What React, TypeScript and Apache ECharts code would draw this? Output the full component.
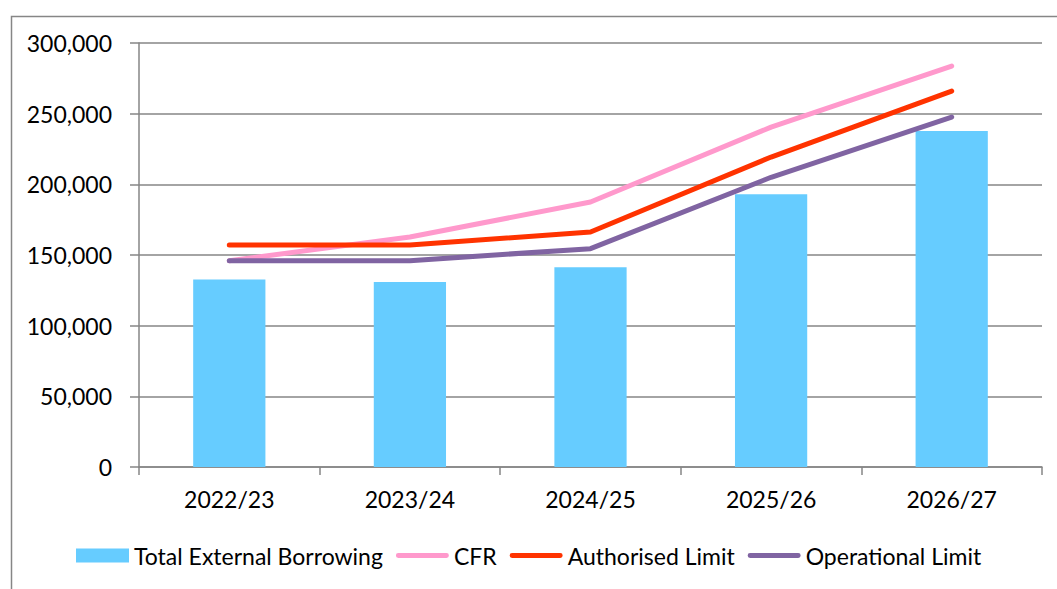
import React, { useEffect, useRef } from "react";
import * as echarts from "echarts";

const categories = ["2022/23", "2023/24", "2024/25", "2025/26", "2026/27"];
const totalExternalBorrowing = [132600, 130900, 141300, 193000, 237700];
const cfr = [146000, 162700, 187500, 240500, 283700];
const authorisedLimit = [157000, 157000, 166300, 219300, 266000];
const operationalLimit = [146000, 146000, 154500, 205000, 247600];
const yTicks = { min: 0, max: 300000, interval: 50000 };

const FONT = "Lato";
const AXIS = "#868686";
const LINE_ICON =
  "path://M2.5,0 L52.5,0 A2.5,2.5 0 0 1 52.5,5 L2.5,5 A2.5,2.5 0 0 1 2.5,0 Z";

export default function App() {
  const ref = useRef<HTMLDivElement>(null);
  useEffect(() => {
    if (!ref.current) return;
    const chart = echarts.init(ref.current, null, { renderer: "svg" });
    const lineSeries = (name: string, data: number[], color: string) => ({
      name,
      type: "line",
      data,
      symbol: "none",
      showSymbol: false,
      itemStyle: { color },
      lineStyle: { color, width: 5, cap: "round", join: "round" },
      z: 3,
    });
    chart.setOption({
      animation: false,
      backgroundColor: "#ffffff",
      textStyle: { fontFamily: FONT },
      graphic: [
        {
          type: "rect",
          left: 9,
          top: 14,
          shape: { x: 0, y: 0, width: 1100, height: 700 },
          style: { fill: "none", stroke: AXIS, lineWidth: 1.5 },
          silent: true,
        },
      ],
      grid: { left: 139, right: 15, top: 43, bottom: 122, containLabel: false },
      legend: {
        left: 71,
        top: 539,
        itemWidth: 53,
        itemHeight: 14,
        itemGap: 13,
        textStyle: { fontFamily: FONT, fontSize: 23, color: "#000" },
        data: [
          { name: "Total External Borrowing", icon: "rect" },
          { name: "CFR", icon: LINE_ICON },
          { name: "Authorised Limit", icon: LINE_ICON },
          { name: "Operational Limit", icon: LINE_ICON },
        ],
      },
      xAxis: {
        type: "category",
        data: categories,
        boundaryGap: true,
        axisLine: { lineStyle: { color: AXIS, width: 1.5 } },
        axisTick: { show: true, interval: 0, length: 8, lineStyle: { color: AXIS, width: 1.5 } },
        axisLabel: { fontFamily: FONT, fontSize: 23, color: "#000", margin: 20 },
      },
      yAxis: {
        type: "value",
        min: yTicks.min,
        max: yTicks.max,
        interval: yTicks.interval,
        axisLine: { show: true, lineStyle: { color: AXIS, width: 1.5 } },
        axisTick: { show: true, length: 9, lineStyle: { color: AXIS, width: 1.5 } },
        splitLine: { show: true, lineStyle: { color: AXIS, width: 1.5 } },
        axisLabel: {
          fontFamily: FONT,
          fontSize: 23,
          color: "#000",
          margin: 27,
          formatter: (v: number) => v.toLocaleString("en-US"),
        },
      },
      series: [
        {
          name: "Total External Borrowing",
          type: "bar",
          data: totalExternalBorrowing,
          barWidth: "40%",
          itemStyle: { color: "#66CCFF" },
          z: 2,
        },
        lineSeries("CFR", cfr, "#FF99CC"),
        lineSeries("Authorised Limit", authorisedLimit, "#FF3300"),
        lineSeries("Operational Limit", operationalLimit, "#8064A2"),
      ],
    });
    return () => chart.dispose();
  }, []);
  return (
    <div
      ref={ref}
      style={{ position: "fixed", left: 0, top: 0, width: 1057, height: 589 }}
    />
  );
}
